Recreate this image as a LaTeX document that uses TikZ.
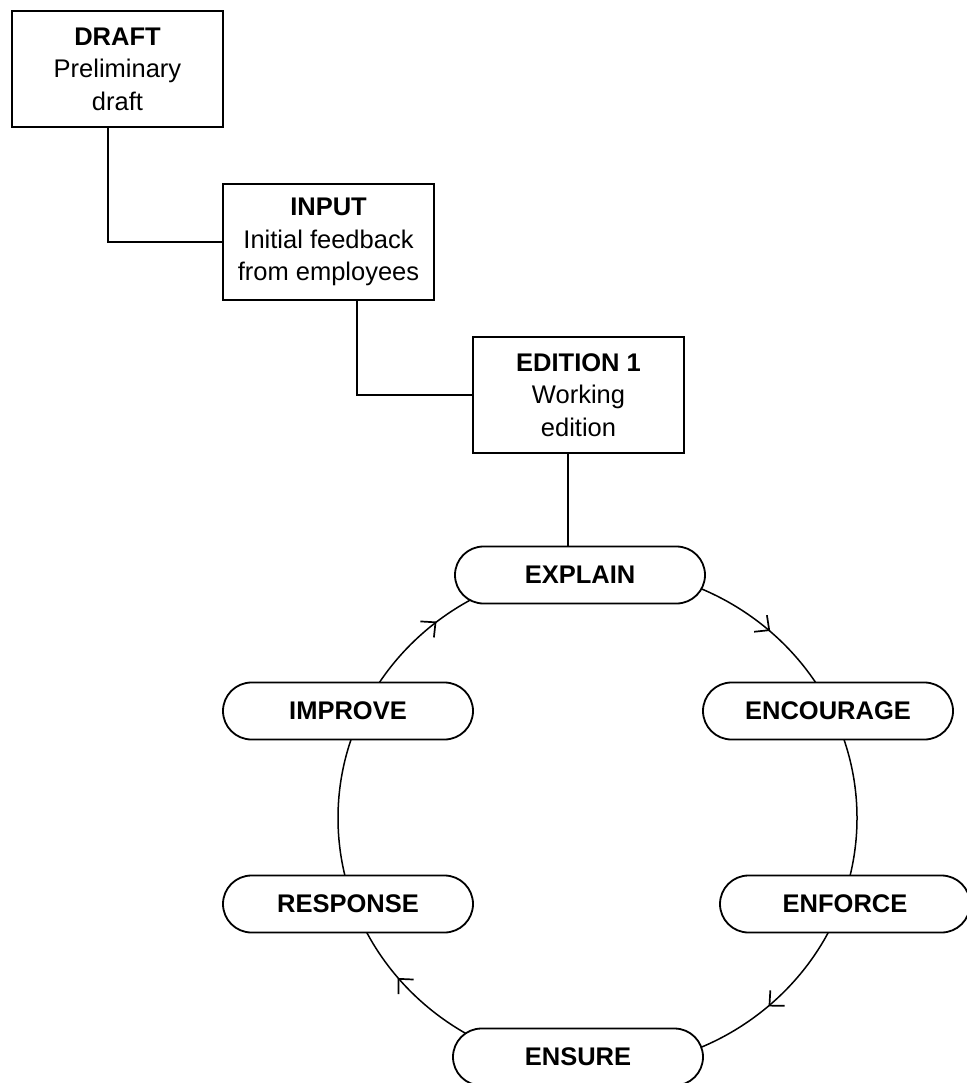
\documentclass[tikz,border=0pt]{standalone}
\usepackage{fontspec}
\setmainfont{Liberation Sans}
\usetikzlibrary{arrows.meta,calc,positioning,shapes.misc,decorations.markings}
\tikzset{>={Straight Barb[length=11pt,width=21pt,line width=1.7pt]},
  every node/.style={font=\fontsize{25.5}{32.5}\selectfont},
  stagebox/.style={draw,line width=1.8pt,minimum width=211pt,minimum height=116pt,
    align=center,inner sep=0pt},
  phase/.style={draw,fill=white,rounded rectangle,line width=1.8pt,minimum width=250pt,
    minimum height=57pt,inner sep=0pt,font=\fontsize{25.5}{32.5}\selectfont\bfseries},
  link/.style={draw,line width=1.5pt},
  loopline/.style={draw,line width=1.5pt,postaction={decorate},
    decoration={markings,
      mark=at position .141 with {\arrow{<}},
      mark=at position .366 with {\arrow{<}},
      mark=at position .617 with {\arrow{<}},
      mark=at position .874 with {\arrow{<}}}}}

\begin{document}
\begin{tikzpicture}[x=1pt,y=1pt]
\useasboundingbox (0,0) rectangle (966,-1083);
% review cycle
\coordinate (hub) at (597.5,-818);
\draw[loopline] (hub) ellipse[x radius=259.5pt,y radius=250pt];
\node[phase] (explain) at (580,-575) {EXPLAIN};
\node[phase] (encourage) at (828,-711) {ENCOURAGE};
\node[phase] (enforce) at (845,-904) {ENFORCE};
\node[phase] (ensure) at (578,-1057) {ENSURE};
\node[phase] (response) at (348,-904) {RESPONSE};
\node[phase] (improve) at (348,-711) {IMPROVE};
% drafting stages
\node[stagebox] (draft) at (117.5,-69) {\textbf{DRAFT}\\Preliminary\\draft};
\node[stagebox] (input) at (328.5,-242) {\textbf{INPUT}\\Initial feedback\\from employees};
\node[stagebox] (edition) at (578.5,-395) {\textbf{EDITION 1}\\Working\\edition};
\draw[link] ($(draft.south west)!.455!(draft.south east)$) |- (input.west);
\draw[link] ($(input.south west)!.635!(input.south east)$) |- (edition.west);
\draw[link] ($(edition.south west)!.45!(edition.south east)$) coordinate (drop) -- (drop |- explain.north);
\end{tikzpicture}
\end{document}
